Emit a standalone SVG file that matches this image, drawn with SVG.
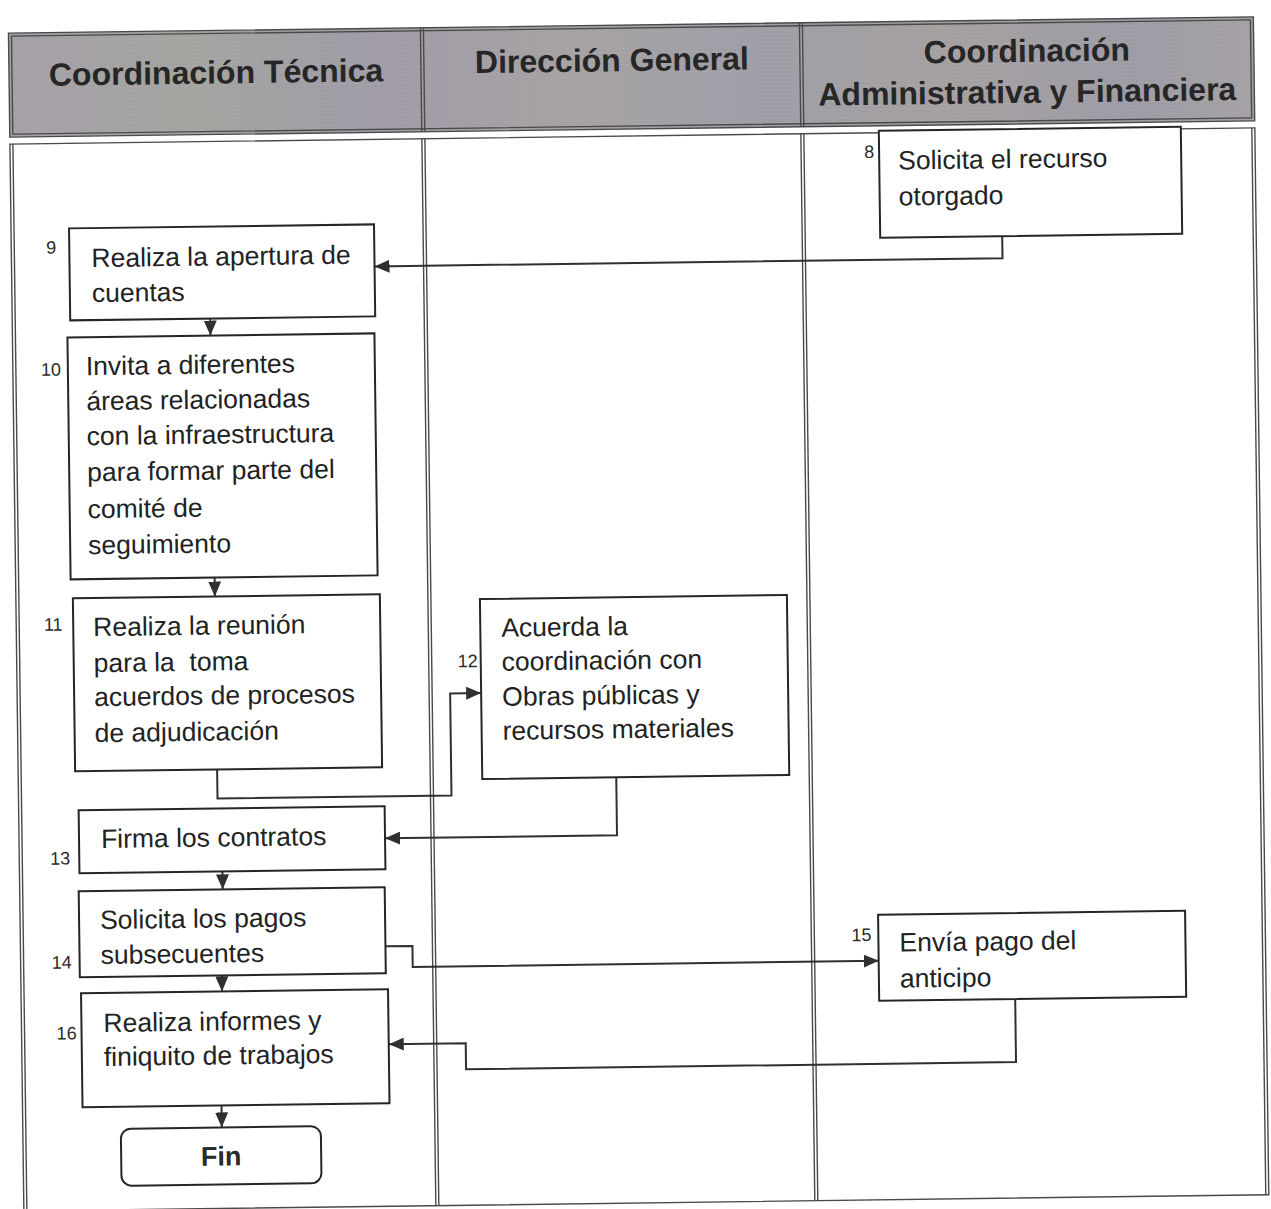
<svg xmlns="http://www.w3.org/2000/svg" width="1271" height="1209" viewBox="0 0 1271 1209">
  <style>
    .lane-title { font-family: "Liberation Sans", Arial, sans-serif; font-weight: bold; font-size: 32px; fill: #262626; text-anchor: middle; }
    .box { fill: #ffffff; stroke: #262626; stroke-width: 2; }
    .lbl { font-family: "Liberation Sans", Arial, sans-serif; font-size: 26.5px; fill: #222222; white-space: pre; }
    .num { font-family: "Liberation Sans", Arial, sans-serif; font-size: 18px; fill: #2a2a2a; text-anchor: middle; }
    .edge { fill: none; stroke: #303030; stroke-width: 2; marker-end: url(#arrow); }
    .rule { stroke: #4a4a4a; stroke-width: 1.4; fill: none; }
  </style>
  <defs>
    <marker id="arrow" viewBox="0 0 15 13" refX="15" refY="6.5" markerWidth="15" markerHeight="13" markerUnits="userSpaceOnUse" orient="auto">
      <path d="M0,0 L15,6.5 L0,13 Z" fill="#303030"/>
    </marker>
    <linearGradient id="headFill" x1="0" y1="0" x2="1" y2="0">
      <stop offset="0" stop-color="#a69fa9"/>
      <stop offset="0.15" stop-color="#a3a59f"/>
      <stop offset="0.3" stop-color="#9f9aa8"/>
      <stop offset="0.45" stop-color="#a7a2a2"/>
      <stop offset="0.6" stop-color="#9d9ea8"/>
      <stop offset="0.75" stop-color="#a6a09f"/>
      <stop offset="0.9" stop-color="#9c9ba6"/>
      <stop offset="1" stop-color="#a5a1a4"/>
    </linearGradient>
    <pattern id="headStripes" width="7" height="4" patternUnits="userSpaceOnUse">
      <rect width="7" height="1" fill="#b8a7b8" opacity="0.35"/>
      <rect y="2" width="7" height="1" fill="#9aa79a" opacity="0.3"/>
    </pattern>
  </defs>

  <g transform="rotate(-0.75 635 605)">
    <!-- lane header band -->
    <g id="header">
      <rect x="16" y="25" width="1245" height="104" fill="url(#headFill)"/>
      <rect x="16" y="25" width="1245" height="104" fill="url(#headStripes)"/>
      <rect x="16" y="25" width="1245" height="104" class="rule" stroke-width="2"/>
      <rect x="19" y="28" width="1239" height="98" class="rule" stroke-width="1"/>
      <line x1="428" y1="25" x2="428" y2="129" class="rule"/>
      <line x1="431" y1="25" x2="431" y2="129" class="rule"/>
      <line x1="807" y1="25" x2="807" y2="129" class="rule"/>
      <line x1="810" y1="25" x2="810" y2="129" class="rule"/>
      <text class="lane-title" x="223" y="78">Coordinación Técnica</text>
      <text class="lane-title" x="619" y="71">Dirección General</text>
      <text class="lane-title" x="1034" y="67">Coordinación</text>
      <text class="lane-title" x="1034" y="108">Administrativa y Financiera</text>
    </g>

    <!-- lane bodies -->
    <g id="lanes">
      <rect x="16" y="136" width="1245" height="1067" class="rule" stroke-width="2"/>
      <line x1="19" y1="136" x2="19" y2="1203" class="rule" stroke-width="1"/>
      <line x1="1258" y1="136" x2="1258" y2="1203" class="rule" stroke-width="1"/>
      <line x1="428" y1="136" x2="428" y2="1203" class="rule"/>
      <line x1="431" y1="136" x2="431" y2="1203" class="rule"/>
      <line x1="807" y1="136" x2="807" y2="1203" class="rule"/>
      <line x1="810" y1="136" x2="810" y2="1203" class="rule"/>
    </g>

    <!-- connectors -->
    <g id="connectors">
      <path class="edge" d="M1007,241 V263 H379"/>
      <path class="edge" d="M214,313 V330"/>
      <path class="edge" d="M215,572 V591"/>
      <path class="edge" d="M215,764 V793 H449 V691 H480"/>
      <path class="edge" d="M614,777 V835 H382"/>
      <path class="edge" d="M219,866 V884"/>
      <path class="edge" d="M381,943 H408 V964 H874"/>
      <path class="edge" d="M217,970 V986"/>
      <path class="edge" d="M1010,1004 V1067 H460 V1041 H383"/>
      <path class="edge" d="M215,1100 V1122"/>
    </g>

    <g id="step8">
      <rect class="box" x="885" y="134" width="302" height="107"/>
      <text class="num" x="875" y="161">8</text>
      <text class="lbl" x="904" y="173">Solicita el recurso</text>
      <text class="lbl" x="904" y="209">otorgado</text>
    </g>

    <g id="step9">
      <rect class="box" x="74" y="221" width="305" height="92"/>
      <text class="num" x="56" y="246">9</text>
      <text class="lbl" x="96" y="260">Realiza la apertura de</text>
      <text class="lbl" x="96" y="295">cuentas</text>
    </g>

    <g id="step10">
      <rect class="box" x="71" y="330" width="307" height="242"/>
      <text class="num" x="54" y="368">10</text>
      <text class="lbl" x="89" y="368">Invita a diferentes</text>
      <text class="lbl" x="89" y="403">áreas relacionadas</text>
      <text class="lbl" x="89" y="438">con la infraestructura</text>
      <text class="lbl" x="89" y="474">para formar parte del</text>
      <text class="lbl" x="89" y="511">comité de</text>
      <text class="lbl" x="89" y="547">seguimiento</text>
    </g>

    <g id="step11">
      <rect class="box" x="73" y="591" width="307" height="173"/>
      <text class="num" x="53" y="623">11</text>
      <text class="lbl" x="93" y="629">Realiza la reunión</text>
      <text class="lbl" x="93" y="665">para la  toma</text>
      <text class="lbl" x="93" y="699">acuerdos de procesos</text>
      <text class="lbl" x="93" y="735">de adjudicación</text>
    </g>

    <g id="step12">
      <rect class="box" x="480" y="597" width="307" height="180"/>
      <text class="num" x="467" y="665">12</text>
      <text class="lbl" x="501" y="635">Acuerda la</text>
      <text class="lbl" x="501" y="669">coordinación con</text>
      <text class="lbl" x="501" y="704">Obras públicas y</text>
      <text class="lbl" x="501" y="738">recursos materiales</text>
    </g>

    <g id="step13">
      <rect class="box" x="76" y="803" width="306" height="63"/>
      <text class="num" x="57" y="857">13</text>
      <text class="lbl" x="98" y="841">Firma los contratos</text>
    </g>

    <g id="step14">
      <rect class="box" x="75" y="884" width="306" height="86"/>
      <text class="num" x="57" y="961">14</text>
      <text class="lbl" x="96" y="922">Solicita los pagos</text>
      <text class="lbl" x="96" y="957">subsecuentes</text>
    </g>

    <g id="step15">
      <rect class="box" x="874" y="918" width="307" height="86"/>
      <text class="num" x="857" y="944">15</text>
      <text class="lbl" x="895" y="955">Envía pago del</text>
      <text class="lbl" x="895" y="991">anticipo</text>
    </g>

    <g id="step16">
      <rect class="box" x="76" y="986" width="307" height="114"/>
      <text class="num" x="61" y="1032">16</text>
      <text class="lbl" x="98" y="1025">Realiza informes y</text>
      <text class="lbl" x="98" y="1059">finiquito de trabajos</text>
    </g>

    <g id="end">
      <rect class="box" x="114" y="1122" width="200" height="57" rx="10"/>
      <text x="214" y="1160" font-family="Liberation Sans, Arial, sans-serif" font-weight="bold" font-size="27" fill="#2a2a2a" text-anchor="middle">Fin</text>
    </g>
  </g>
</svg>
